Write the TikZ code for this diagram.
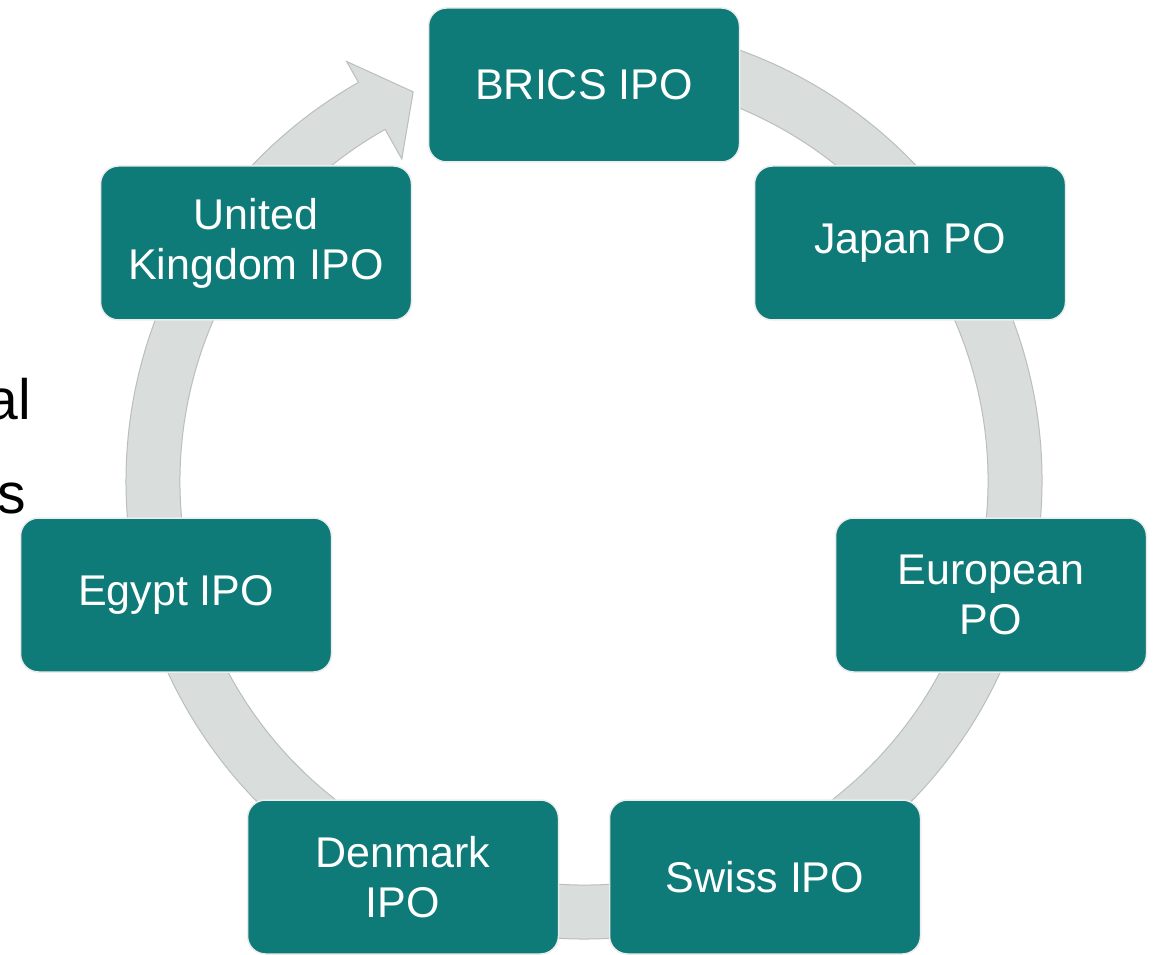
\documentclass[tikz,border=0pt]{standalone}
\usepackage{fontspec}
\setmainfont{Liberation Sans}
\usetikzlibrary{calc}
\definecolor{teal1}{HTML}{0F7B79}
\definecolor{ringfill}{HTML}{D9DDDC}
\definecolor{ringline}{HTML}{B9BFBE}
\tikzset{
  stage/.style={rectangle, rounded corners=18pt, fill=teal1, draw=white!85!gray, line width=1.5pt,
    minimum width=311pt, minimum height=154pt, text=white, align=center,
    font=\fontsize{43}{50}\selectfont, inner sep=0pt},
  bgtext/.style={anchor=base east, font=\fontsize{57}{60}\selectfont, text=black, inner sep=0pt}
}
\begin{document}
\begin{tikzpicture}[x=1pt,y=1pt]
\useasboundingbox (0,0) rectangle (1155,954);
\clip (0,0) rectangle (1155,954);
\fill[white] (0,0) rectangle (1155,954);
\coordinate (C) at (584,473);
% ring with arrow
\draw[fill=ringfill, draw=ringline, line width=1pt]
  ($(C)+(85:458)$) arc[start angle=85, end angle=-240.5, radius=458]
  -- ($(C)+(-240.5:482)$)
  -- ($(C)+(-246.3:425)$)
  -- ($(C)+(-240.5:370)$)
  -- ($(C)+(-240.5:404)$)
  arc[start angle=-240.5, end angle=85, radius=404] -- cycle;
% background text fragments
\node[bgtext] (t1) at (31,534) {al};
\node[bgtext] (t2) at (26,441) {s};
% stages
\node[stage] (brics) at (584,869) {BRICS IPO};
\node[stage] (japan) at (910,711) {Japan PO};
\node[stage] (europe) at (991,359) {European\\PO};
\node[stage] (swiss) at (765,77) {Swiss IPO};
\node[stage] (denmark) at (403,77) {Denmark\\IPO};
\node[stage] (egypt) at (176,359) {Egypt IPO};
\node[stage] (uk) at (256,711) {United\\Kingdom IPO};
\end{tikzpicture}
\end{document}
